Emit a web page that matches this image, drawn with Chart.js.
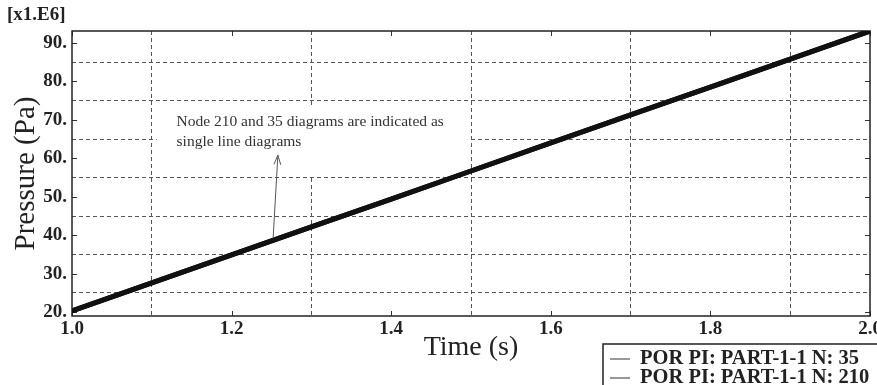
<!DOCTYPE html>
<html lang="en">
<head>
    <meta charset="UTF-8">
    <title>Pressure vs Time</title>
    <script src="https://cdn.jsdelivr.net/npm/chart.js"></script>
    <style>
        html, body { margin: 0; padding: 0; background: #fff; }
        #wrap { width: 877px; height: 385px; }
    </style>
</head>
<body>
    <div id="wrap"><canvas id="grafico" width="877" height="385"></canvas></div>
    <script>
        // Datos (presion en x1.E6 Pa)
        const tiempo = [1.0, 1.1, 1.2, 1.3, 1.4, 1.5, 1.6, 1.7, 1.8, 1.9, 2.0];
        const nodo35 = [20.3, 27.6, 34.9, 42.2, 49.4, 56.7, 64.0, 71.3, 78.5, 85.8, 93.1];
        const nodo210 = [20.3, 27.6, 34.9, 42.2, 49.4, 56.7, 64.0, 71.3, 78.5, 85.8, 93.1];
        const etiquetasSerie = ['POR PI: PART-1-1 N: 35', 'POR PI: PART-1-1 N: 210'];

        // Marcas de ejes y lineas de rejilla
        const xEtiquetas = [1.0, 1.2, 1.4, 1.6, 1.8, 2.0];
        const xRejilla = [1.1, 1.3, 1.5, 1.7, 1.9];
        const yEtiquetas = [20, 30, 40, 50, 60, 70, 80, 90];
        const yRejilla = [25, 35, 45, 55, 65, 75, 85];

        // Nota del grafico (en unidades de datos)
        const notaTexto = ['Node 210 and 35 diagrams are indicated as', 'single line diagrams'];
        const notaPos = { x: 1.131, y: 69.4 };
        const notaCaja = { x0: 1.106, x1: 1.496, y0: 55.6, y1: 73.6 };
        const flecha = { x0: 1.252, y0: 39.2, x1: 1.258, y1: 60.8 };

        const serif = '"Liberation Serif", "DejaVu Serif", serif';
        const esRejilla = (lista, v) => lista.some(g => Math.abs(g - v) < 1e-6);

        const decoracion = {
            id: 'decoracion',
            beforeDatasetsDraw(chart) {
                const { ctx, chartArea: a, scales: { x, y } } = chart;
                ctx.save();
                // fondo blanco de la nota (tapa la rejilla)
                const bx0 = x.getPixelForValue(notaCaja.x0), bx1 = x.getPixelForValue(notaCaja.x1);
                const by0 = y.getPixelForValue(notaCaja.y1), by1 = y.getPixelForValue(notaCaja.y0);
                ctx.fillStyle = '#fff';
                ctx.fillRect(bx0, by0, bx1 - bx0, by1 - by0);

                // marcas interiores en los cuatro lados
                ctx.strokeStyle = '#333';
                ctx.lineWidth = 1;
                ctx.beginPath();
                xEtiquetas.forEach(v => {
                    const px = Math.round(x.getPixelForValue(v)) + 0.5;
                    ctx.moveTo(px, a.bottom); ctx.lineTo(px, a.bottom - 5);
                    ctx.moveTo(px, a.top); ctx.lineTo(px, a.top + 5);
                });
                yEtiquetas.forEach(v => {
                    const py = Math.round(y.getPixelForValue(v)) + 0.5;
                    ctx.moveTo(a.left, py); ctx.lineTo(a.left + 5, py);
                    ctx.moveTo(a.right, py); ctx.lineTo(a.right - 5, py);
                });
                ctx.stroke();
                // marco
                ctx.strokeStyle = '#222';
                ctx.lineWidth = 1.5;
                ctx.strokeRect(a.left, a.top, a.right - a.left, a.bottom - a.top);
                ctx.restore();
            },
            afterDraw(chart) {
                const { ctx, scales: { x, y } } = chart;
                ctx.save();
                // multiplicador del eje
                ctx.fillStyle = '#222';
                ctx.font = 'bold 19px ' + serif;
                ctx.textBaseline = 'middle';
                ctx.textAlign = 'left';
                ctx.fillText('[x1.E6]', 7, 15);

                // nota
                ctx.fillStyle = '#333';
                ctx.font = '15.5px ' + serif;
                const tx = x.getPixelForValue(notaPos.x);
                const ty = y.getPixelForValue(notaPos.y);
                notaTexto.forEach((t, i) => ctx.fillText(t, tx, ty + i * 20));

                // flecha
                const ax0 = x.getPixelForValue(flecha.x0), ay0 = y.getPixelForValue(flecha.y0);
                const ax1 = x.getPixelForValue(flecha.x1), ay1 = y.getPixelForValue(flecha.y1);
                ctx.strokeStyle = '#555';
                ctx.lineWidth = 1;
                ctx.beginPath();
                ctx.moveTo(ax0, ay0); ctx.lineTo(ax1, ay1);
                const ang = Math.atan2(ay1 - ay0, ax1 - ax0);
                ctx.moveTo(ax1 - 10 * Math.cos(ang - 0.35), ay1 - 10 * Math.sin(ang - 0.35));
                ctx.lineTo(ax1, ay1);
                ctx.lineTo(ax1 - 10 * Math.cos(ang + 0.35), ay1 - 10 * Math.sin(ang + 0.35));
                ctx.stroke();

                // leyenda
                const lx = 603, ly = 344;
                ctx.strokeStyle = '#222';
                ctx.lineWidth = 1.5;
                ctx.strokeRect(lx, ly, 290, 50);
                ctx.font = 'bold 20.5px ' + serif;
                ctx.fillStyle = '#222';
                chart.data.datasets.forEach((ds, i) => {
                    const yy = ly + 15 + i * 19;
                    ctx.strokeStyle = '#777';
                    ctx.lineWidth = 1.5;
                    ctx.beginPath();
                    ctx.moveTo(lx + 7, yy); ctx.lineTo(lx + 27, yy);
                    ctx.stroke();
                    ctx.fillText(ds.label, lx + 37, yy);
                });
                ctx.restore();
            }
        };

        new Chart(document.getElementById('grafico'), {
            type: 'line',
            data: {
                labels: tiempo,
                datasets: [
                    { label: etiquetasSerie[0], data: tiempo.map((t, i) => ({ x: t, y: nodo35[i] })) },
                    { label: etiquetasSerie[1], data: tiempo.map((t, i) => ({ x: t, y: nodo210[i] })) }
                ]
            },
            options: {
                responsive: false,
                animation: false,
                layout: { padding: { left: 0, right: 7, top: 31, bottom: 0 } },
                elements: {
                    line: { borderColor: '#111', borderWidth: 5, tension: 0 },
                    point: { radius: 0 }
                },
                plugins: { legend: { display: false }, tooltip: { enabled: false } },
                scales: {
                    x: {
                        type: 'linear',
                        min: 1.0,
                        max: 2.0,
                        afterBuildTicks: s => {
                            s.ticks = [...xEtiquetas, ...xRejilla].sort((p, q) => p - q).map(v => ({ value: v }));
                        },
                        afterFit: s => { s.height = 69; s.paddingLeft = 0; s.paddingRight = 0; },
                        border: { display: false, dash: [4, 3] },
                        grid: {
                            drawTicks: false,
                            color: c => esRejilla(xRejilla, c.tick.value) ? '#555' : 'rgba(0,0,0,0)',
                            lineWidth: 1
                        },
                        ticks: {
                            padding: 2,
                            autoSkip: false,
                            maxRotation: 0,
                            color: '#222',
                            font: { family: serif, size: 19, weight: 'bold' },
                            callback: v => esRejilla(xEtiquetas, v) ? v.toFixed(1) : ''
                        },
                        title: {
                            display: true,
                            text: 'Time (s)',
                            color: '#222',
                            font: { family: serif, size: 28 },
                            padding: { top: 0, bottom: 21 }
                        }
                    },
                    y: {
                        min: 19,
                        max: 93.1,
                        afterBuildTicks: s => {
                            s.ticks = [...yEtiquetas, ...yRejilla].sort((p, q) => p - q).map(v => ({ value: v }));
                        },
                        afterFit: s => { s.width = 72; },
                        border: { display: false, dash: [4, 3] },
                        grid: {
                            drawTicks: false,
                            color: c => esRejilla(yRejilla, c.tick.value) ? '#555' : 'rgba(0,0,0,0)',
                            lineWidth: 1
                        },
                        ticks: {
                            padding: 5,
                            autoSkip: false,
                            color: '#222',
                            font: { family: serif, size: 19, weight: 'bold' },
                            callback: v => esRejilla(yEtiquetas, v) ? v + '.' : ''
                        },
                        title: {
                            display: true,
                            text: 'Pressure (Pa)',
                            color: '#222',
                            font: { family: serif, size: 29 },
                            padding: { top: 9, bottom: 0 }
                        }
                    }
                }
            },
            plugins: [decoracion]
        });
    </script>
</body>
</html>
